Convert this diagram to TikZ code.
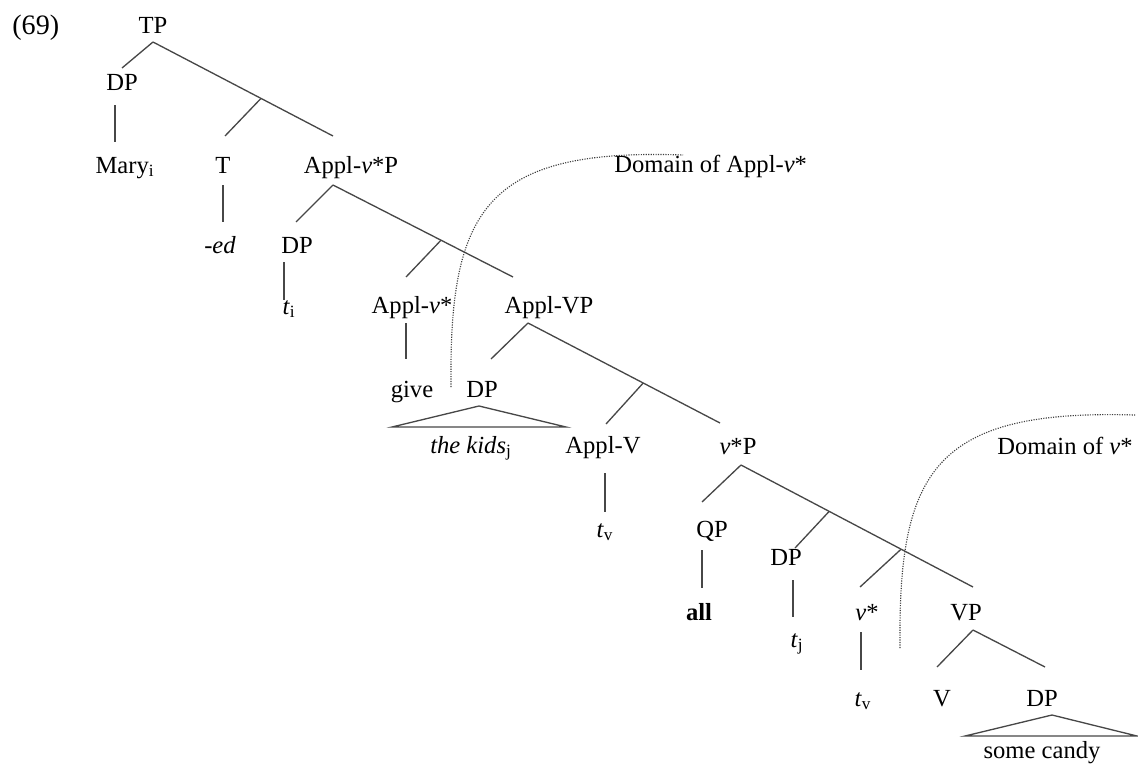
\documentclass[tikz,border=0pt]{standalone}
\usepackage{fontspec}
\setmainfont{Liberation Serif}
\usetikzlibrary{calc}

\tikzset{
  lbl/.style={anchor=base, inner sep=0pt, font=\fontsize{14}{16}\selectfont},
  branch/.style={black!72, line width=0.75pt},
  domainline/.style={black!75, line width=0.65pt, dash pattern=on 0.65pt off 0.75pt},
}

\begin{document}
\begin{tikzpicture}[x=0.02cm, y=-0.02cm]
  \useasboundingbox (0,0) rectangle (1138,764);

  \node[lbl, anchor=base west, font=\fontsize{16}{18}\selectfont] (ex) at (12,34) {(69)};

  % labels
  \node[lbl] (TP) at (153,33) {TP};
  \node[lbl] (DP-1) at (122,90) {DP};
  \node[lbl] (Mary) at (125,173) {Mary\textsubscript{i}};
  \node[lbl] (T) at (223,173) {T};
  \node[lbl] (ed) at (220,253) {-\textit{ed}};
  \node[lbl] (AvP) at (351,173) {Appl-\textit{v}*P};
  \node[lbl] (DP-2) at (297,253) {DP};
  \node[lbl] (ti) at (289,314) {\textit{t}\textsubscript{i}};
  \node[lbl] (Av) at (412,313) {Appl-\textit{v}*};
  \node[lbl] (AVP) at (549,313) {Appl-VP};
  \node[lbl] (give) at (412,397) {give};
  \node[lbl] (DP-3) at (482,397) {DP};
  \node[lbl] (kids) at (471,453) {\textit{the kids}\textsubscript{j}};
  \node[lbl] (AV) at (603,453) {Appl-V};
  \node[lbl] (tv-1) at (605,537) {\textit{t}\textsubscript{v}};
  \node[lbl] (vP) at (738,454) {\textit{v}*P};
  \node[lbl] (QP) at (712,537) {QP};
  \node[lbl] (all) at (699,620) {\textbf{all}};
  \node[lbl] (DP-4) at (786,565) {DP};
  \node[lbl] (tj) at (797,647) {\textit{t}\textsubscript{j}};
  \node[lbl] (v) at (867,620) {\textit{v}*};
  \node[lbl] (tv-2) at (863,706) {\textit{t}\textsubscript{v}};
  \node[lbl] (VP) at (966,620) {VP};
  \node[lbl] (V) at (942,706) {V};
  \node[lbl] (DP-5) at (1042,706) {DP};
  \node[lbl] (candy) at (1042,758) {some candy};
  \node[lbl, anchor=base west] (dom-1) at (614,172) {Domain of Appl-\textit{v}*};
  \node[lbl, anchor=base west] (dom-2) at (997,454) {Domain of \textit{v}*};

  % where the branches meet the labels
  \coordinate (TP-b) at (153,42);
  \coordinate (DP-1-t) at (122,68);
  \coordinate (DP-1-b) at (115,105);
  \coordinate (Mary-t) at (115,142);
  \coordinate (T-t) at (225,136);
  \coordinate (T-b) at (223,185);
  \coordinate (ed-t) at (223,222);
  \coordinate (AvP-t) at (333,136);
  \coordinate (AvP-b) at (333,185);
  \coordinate (DP-2-t) at (296,222);
  \coordinate (DP-2-b) at (284,262);
  \coordinate (ti-t) at (284,300);
  \coordinate (Av-t) at (406,277);
  \coordinate (Av-b) at (406,323);
  \coordinate (give-t) at (406,359);
  \coordinate (AVP-t) at (513,277);
  \coordinate (AVP-b) at (528,323);
  \coordinate (DP-3-t) at (491,359);
  \coordinate (AV-t) at (606,424);
  \coordinate (AV-b) at (605,473);
  \coordinate (tv-1-t) at (605,512);
  \coordinate (vP-t) at (720,423);
  \coordinate (vP-b) at (741,465);
  \coordinate (QP-t) at (702,502);
  \coordinate (QP-b) at (702,550);
  \coordinate (all-t) at (702,588);
  \coordinate (DP-4-t) at (795,548);
  \coordinate (DP-4-b) at (793,580);
  \coordinate (tj-t) at (793,617);
  \coordinate (v-t) at (860,587);
  \coordinate (v-b) at (861,632);
  \coordinate (tv-2-t) at (861,670);
  \coordinate (VP-t) at (973,587);
  \coordinate (VP-b) at (973,630);
  \coordinate (V-t) at (937,667);
  \coordinate (DP-5-t) at (1045,667);

  % intermediate bar-level joints
  \coordinate (J-1) at ($(TP-b)!0.6!(AvP-t)$);
  \coordinate (J-2) at ($(AvP-b)!0.6!(AVP-t)$);
  \coordinate (J-3) at ($(AVP-b)!0.6!(vP-t)$);
  \coordinate (J-4) at ($(vP-b)!0.38!(VP-t)$);
  \coordinate (J-5) at ($(vP-b)!0.69!(VP-t)$);

  \draw[branch] (TP-b) -- (DP-1-t);
  \draw[branch] (TP-b) -- (AvP-t);
  \draw[branch] (J-1) -- (T-t);
  \draw[branch] (DP-1-b) -- (Mary-t);
  \draw[branch] (T-b) -- (ed-t);
  \draw[branch] (AvP-b) -- (DP-2-t);
  \draw[branch] (AvP-b) -- (AVP-t);
  \draw[branch] (J-2) -- (Av-t);
  \draw[branch] (DP-2-b) -- (ti-t);
  \draw[branch] (Av-b) -- (give-t);
  \draw[branch] (AVP-b) -- (DP-3-t);
  \draw[branch] (AVP-b) -- (vP-t);
  \draw[branch] (J-3) -- (AV-t);
  \draw[branch] (AV-b) -- (tv-1-t);
  \draw[branch] (vP-b) -- (QP-t);
  \draw[branch] (vP-b) -- (VP-t);
  \draw[branch] (J-4) -- (DP-4-t);
  \draw[branch] (J-5) -- (v-t);
  \draw[branch] (QP-b) -- (all-t);
  \draw[branch] (DP-4-b) -- (tj-t);
  \draw[branch] (v-b) -- (tv-2-t);
  \draw[branch] (VP-b) -- (V-t);
  \draw[branch] (VP-b) -- (DP-5-t);

  % roofs
  \coordinate (R-1) at (479,406);
  \coordinate (R-1l) at (392,427);
  \coordinate (R-1r) at (566,427);
  \draw[branch] (R-1) -- (R-1l) -- (R-1r) -- cycle;
  \coordinate (R-2) at (1052,715);
  \coordinate (R-2l) at (965,736);
  \coordinate (R-2r) at (1137,736);
  \draw[branch] (R-2) -- (R-2l) -- (R-2r) -- cycle;

  % domains
  \coordinate (D-1a) at (451,387);
  \coordinate (D-1b) at (683,155);
  \draw[domainline] (D-1a) .. controls (449,210) and (485,148) .. (D-1b);
  \coordinate (D-2a) at (900,648);
  \coordinate (D-2b) at (1135,415);
  \draw[domainline] (D-2a) .. controls (898,471) and (934,409) .. (D-2b);
\end{tikzpicture}
\end{document}
